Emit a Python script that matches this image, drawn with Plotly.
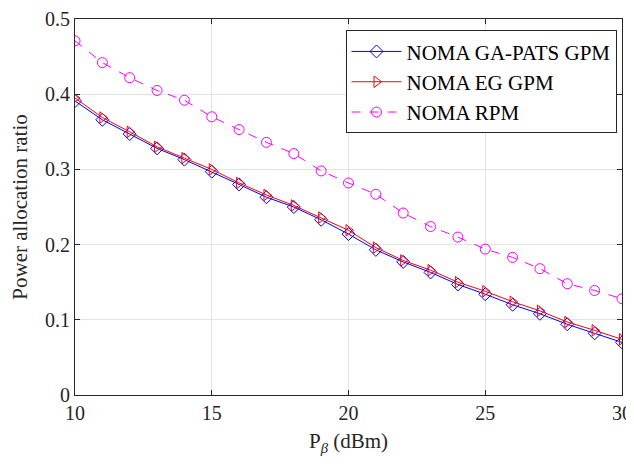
import plotly.graph_objects as go

x_vals = list(range(10, 31))
ga_pats = [0.391, 0.366, 0.347, 0.328, 0.313, 0.297, 0.280, 0.263, 0.250, 0.233, 0.214,
           0.193, 0.177, 0.163, 0.147, 0.134, 0.120, 0.108, 0.094, 0.082, 0.070]
eg = [0.395, 0.369, 0.350, 0.330, 0.315, 0.300, 0.282, 0.266, 0.252, 0.236, 0.219,
      0.196, 0.179, 0.166, 0.150, 0.138, 0.124, 0.112, 0.097, 0.086, 0.074]
rpm = [0.471, 0.442, 0.422, 0.405, 0.392, 0.370, 0.353, 0.336, 0.321, 0.298, 0.282,
       0.267, 0.242, 0.224, 0.210, 0.194, 0.183, 0.168, 0.148, 0.139, 0.128]
names = ["NOMA GA-PATS GPM", "NOMA EG GPM", "NOMA RPM"]
x_ticks = [10, 15, 20, 25, 30]
y_ticks = [0, 0.1, 0.2, 0.3, 0.4, 0.5]

font = "Liberation Serif, Times New Roman, serif"

fig = go.Figure()
fig.add_trace(go.Scatter(x=x_vals, y=ga_pats, name=names[0], mode="lines+markers",
                         line=dict(color="#0000ff", width=1),
                         marker=dict(symbol="diamond-open", size=10, color="#0000ff", line=dict(width=1))))
fig.add_trace(go.Scatter(x=x_vals, y=eg, name=names[1], mode="lines+markers",
                         line=dict(color="#ff0000", width=1),
                         marker=dict(symbol="triangle-right-open", size=10, color="#ff0000", line=dict(width=1))))
fig.add_trace(go.Scatter(x=x_vals, y=rpm, name=names[2], mode="lines+markers",
                         line=dict(color="#ff00ff", width=1, dash="dash"),
                         marker=dict(symbol="circle-open", size=10, color="#ff00ff", line=dict(width=1))))

axis_common = dict(showline=True, linecolor="#262626", linewidth=1, mirror="ticks",
                   ticks="inside", ticklen=5, tickcolor="#262626", automargin=False,
                   ticklabeloverflow="allow",
                   showgrid=True, gridcolor="#e3e3e3", gridwidth=1, zeroline=False,
                   tickfont=dict(family=font, size=20, color="#262626"))

fig.update_layout(
    width=626, height=459,
    margin=dict(l=67, r=12, t=11, b=72),
    paper_bgcolor="white", plot_bgcolor="white",
    font=dict(family=font, color="#262626"),
    xaxis=dict(range=[10, 30], tickvals=x_ticks,
               title=dict(text="P<sub><i>β</i></sub> (dBm)", font=dict(family=font, size=21, color="#262626"), standoff=10),
               **axis_common),
    yaxis=dict(range=[0, 0.5], tickvals=y_ticks, ticktext=["0", "0.1", "0.2", "0.3", "0.4", "0.5"],
               title=dict(text="Power allocation ratio", font=dict(family=font, size=21, color="#262626"), standoff=13),
               **axis_common),
    legend=dict(x=0.99, y=0.97, xanchor="right", yanchor="top",
                bgcolor="white", bordercolor="#262626", borderwidth=1,
                font=dict(family=font, size=21, color="black"),
                itemwidth=50, tracegroupgap=0),
    showlegend=True,
)

fig.write_html("out.html")
